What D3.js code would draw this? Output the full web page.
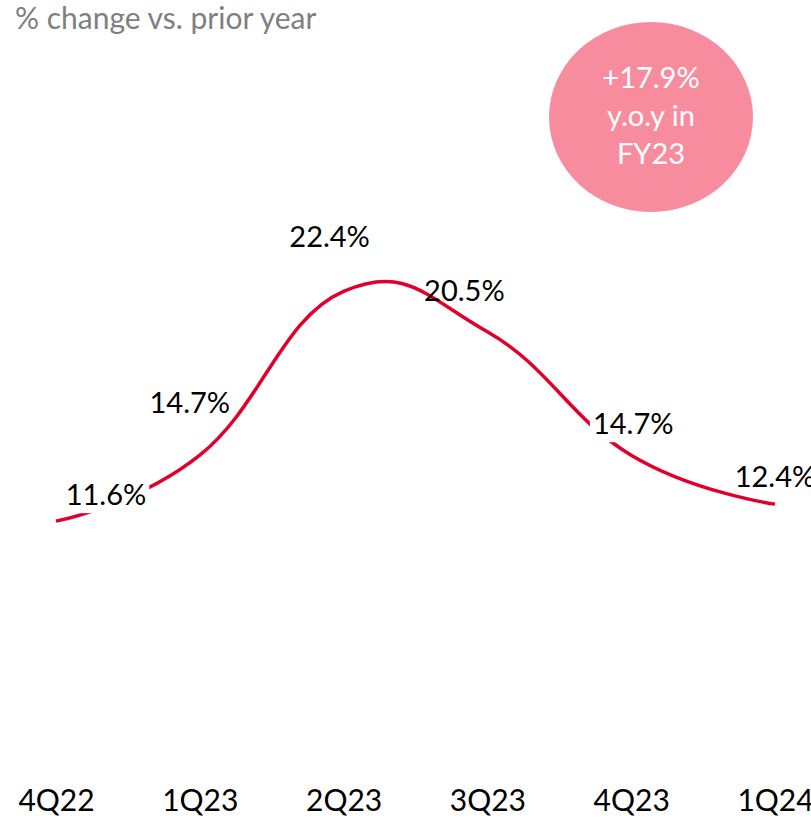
<!DOCTYPE html>
<meta charset="utf-8">
<style>
  body { margin: 0; background: #fff; }
  text { font-family: Lato, "Open Sans", sans-serif; }
  .line { fill: none; stroke: #E0002B; stroke-width: 3.5px; }
  .tick text { fill: #000; }
</style>
<body>
<script src="https://d3js.org/d3.v7.min.js"></script>
<script>

  // data
  var quarters = ["4Q22", "1Q23", "2Q23", "3Q23", "4Q23", "1Q24"];
  var yoyChange = [11.6, 14.7, 22.4, 20.5, 14.7, 12.4];
  var valueLabels = ["11.6%", "14.7%", "22.4%", "20.5%", "14.7%", "12.4%"];
  var titleText = "% change vs. prior year";
  var bubbleLines = ["+17.9%", "y.o.y in", "FY23"];

  // label placement relative to each point (pixels), and whether the label knocks out the line
  var labelDx = [50, -10, -14, -23, 2, 0];
  var labelDy = [-16, -42, -44, -31, -21, -17];
  var labelKnockout = [true, false, false, false, true, false];

  var width = 811, height = 824;

  var svg = d3.select("body").append("svg")
    .attr("width", width)
    .attr("height", height);

  // scales
  var x = d3.scalePoint()
    .domain(quarters)
    .range([56, 775]);
  var y = d3.scaleLinear()
    .domain([0, 25])
    .range([768, 236]);

  var data = quarters.map(function (q, i) {
    return { q: q, v: yoyChange[i], label: valueLabels[i], dx: labelDx[i], dy: labelDy[i], ko: labelKnockout[i] };
  });

  // title
  svg.append("text")
    .attr("x", 15)
    .attr("y", 29)
    .style("font-size", "30px")
    .style("fill", "#7F7F7F")
    .text(titleText);

  // bubble
  var bubble = svg.append("g");
  bubble.append("ellipse")
    .attr("cx", 651)
    .attr("cy", 117)
    .attr("rx", 102)
    .attr("ry", 95)
    .style("fill", "#F88C9F");
  bubble.selectAll("text")
    .data(bubbleLines)
    .enter().append("text")
    .attr("x", 651)
    .attr("y", function (d, i) { return 88 + i * 38; })
    .attr("text-anchor", "middle")
    .style("font-size", "29px")
    .style("fill", "#fff")
    .text(function (d) { return d; });

  // line
  var line = d3.line()
    .x(function (d) { return x(d.q); })
    .y(function (d) { return y(d.v); })
    .curve(d3.curveCardinal.tension(-0.3));

  svg.append("path")
    .datum(data)
    .attr("class", "line")
    .attr("d", line);

  // data labels
  var labels = svg.selectAll(".lbl")
    .data(data)
    .enter().append("g")
    .attr("class", "lbl");

  labels.append("text")
    .attr("x", function (d) { return x(d.q) + d.dx; })
    .attr("y", function (d) { return y(d.v) + d.dy; })
    .attr("text-anchor", "middle")
    .style("font-size", "29px")
    .style("fill", "#000")
    .text(function (d) { return d.label; });

  labels.filter(function (d) { return d.ko; })
    .insert("rect", "text")
    .each(function () {
      var bb = this.parentNode.querySelector("text").getBBox();
      d3.select(this)
        .attr("x", bb.x - 3)
        .attr("y", bb.y + 2)
        .attr("width", bb.width + 6)
        .attr("height", bb.height)
        .style("fill", "#fff");
    });

  // x axis
  svg.append("g")
    .attr("transform", "translate(0,790)")
    .call(d3.axisBottom(x).tickSize(0).tickPadding(0))
    .call(function (g) { g.select(".domain").remove(); })
    .selectAll("text")
    .attr("dy", "0.71em")
    .style("font-size", "30px");

</script>
</body>
